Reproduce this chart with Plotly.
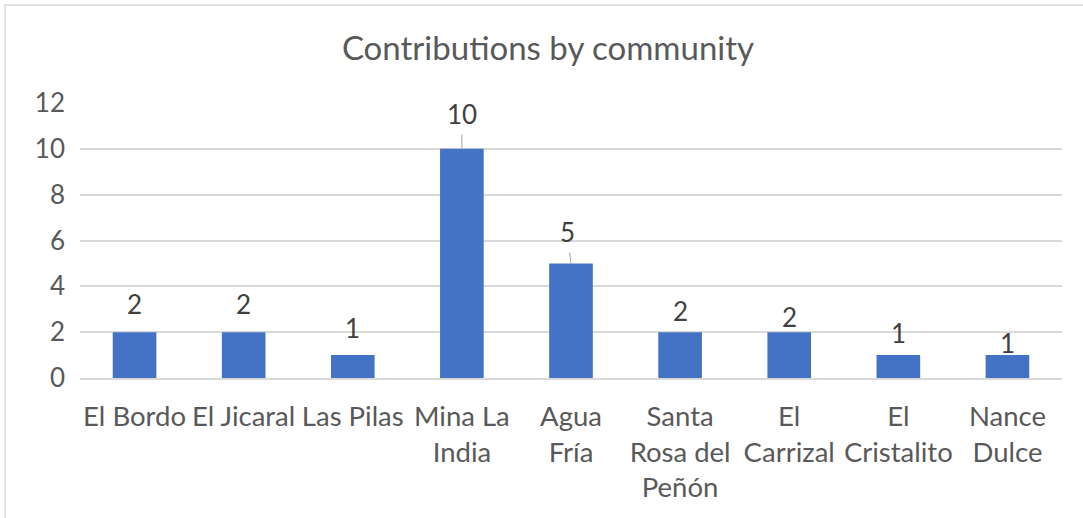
import plotly.graph_objects as go

communities = ["El Bordo", "El Jicaral", "Las Pilas", "Mina La India", "Agua Fría",
               "Santa Rosa del Peñón", "El Carrizal", "El Cristalito", "Nance Dulce"]
tick_labels = ["El Bordo", "El Jicaral", "Las Pilas", "Mina La<br>India", "Agua<br>Fría",
               "Santa<br>Rosa del<br>Peñón", "El<br>Carrizal", "El<br>Cristalito", "Nance<br>Dulce"]
contributions = [2, 2, 1, 10, 5, 2, 2, 1, 1]

# styling: label offsets above bar tops (pixels), and leader lines
label_offsets = [28, 28, 27, 35, 31, 21, 15, 22, 12]
label_dx = [0, 0, 0, 0, -4, 0, 0, 0, 0]
leader = [False, False, False, True, True, False, False, False, False]

W, H = 1083, 518
ML, MR, MT, MB = 80, 21, 103, 140
FONT = "Lato"

fig = go.Figure(go.Bar(
    x=communities, y=contributions,
    marker=dict(color="#4472C4", line=dict(width=0)),
    width=0.4,
))

for c, v, off, dx, ld in zip(communities, contributions, label_offsets, label_dx, leader):
    if ld:
        fig.add_annotation(x=c, y=v, text=str(v), showarrow=True, arrowhead=0,
                           arrowwidth=1, arrowcolor="#a6a6a6", ax=dx, ay=-off,
                           startstandoff=3,
                           font=dict(family=FONT, size=26, color="#404040"))
    else:
        fig.add_annotation(x=c, y=v, text=str(v), showarrow=False, yshift=off,
                           yanchor="middle",
                           font=dict(family=FONT, size=26, color="#404040"))

pw = W - ML - MR
ph = H - MT - MB
fig.add_shape(type="rect", xref="paper", yref="paper",
              x0=(5 - ML) / pw, x1=(W + 10 - ML) / pw,
              y0=(H - MB - (H + 10)) / ph, y1=(H - MB - 5) / ph,
              line=dict(color="#d9d9d9", width=1.5), fillcolor="rgba(0,0,0,0)", layer="below")

fig.update_layout(
    width=W, height=H,
    margin=dict(l=ML, r=MR, t=MT, b=MB, autoexpand=False),
    paper_bgcolor="white", plot_bgcolor="white",
    title=dict(text="Contributions by community", x=0.506, xanchor="center",
               y=1 - 48 / H, yanchor="middle",
               font=dict(family=FONT, size=33, color="#595959")),
    font=dict(family=FONT, color="#595959"),
    showlegend=False,
    bargap=0.6,
    xaxis=dict(tickmode="array", tickvals=communities, ticktext=tick_labels,
               tickfont=dict(family=FONT, size=27.5, color="#595959"),
               showgrid=False, showline=True, linecolor="#d9d9d9", linewidth=1.5,
               ticks="", ticklabelstandoff=13, automargin=False),
    yaxis=dict(range=[0, 12], dtick=2, tick0=0,
               tickfont=dict(family=FONT, size=26, color="#595959"),
               showgrid=True, gridcolor="#d9d9d9", gridwidth=1.5,
               zeroline=False, showline=False, ticks="", ticklabelstandoff=14,
               automargin=False),
)

fig.write_html("out.html", config={"displayModeBar": False},
               post_script="document.body.style.margin='0';document.body.style.overflow='hidden';")
